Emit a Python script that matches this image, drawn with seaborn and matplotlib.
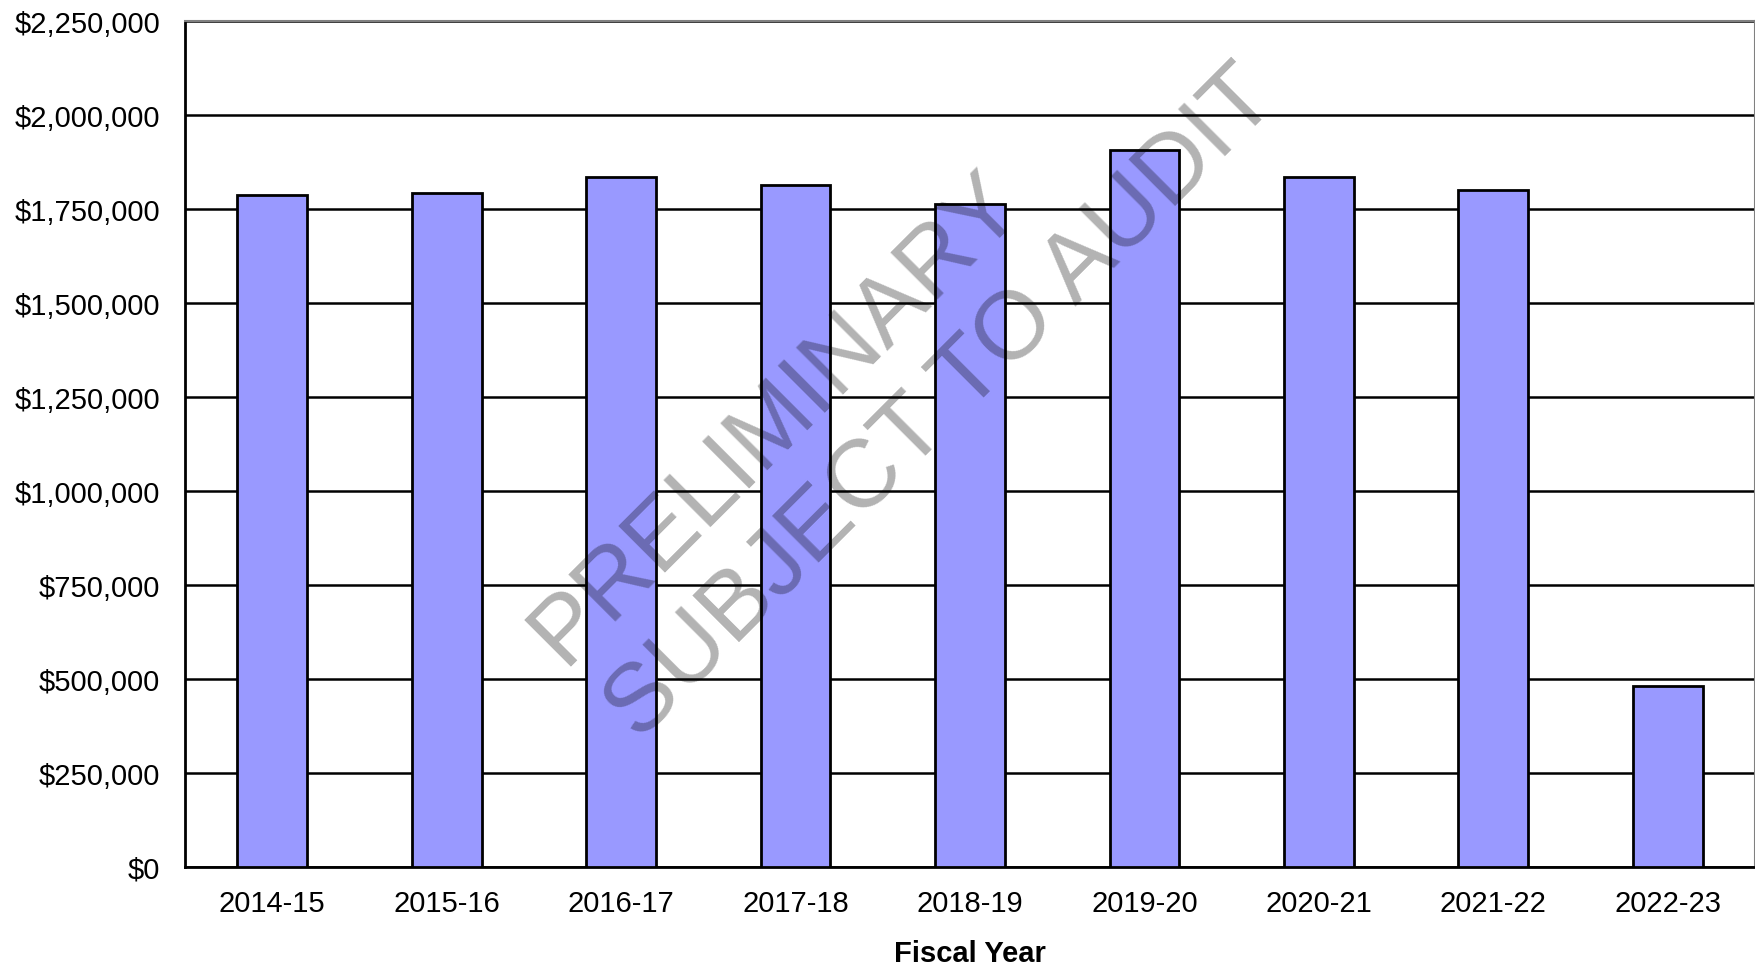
import matplotlib
matplotlib.use('Agg')
import matplotlib.pyplot as plt
import matplotlib.ticker as mtick
import seaborn as sns
import numpy as np

# values
years = ['2014-15', '2015-16', '2016-17', '2017-18', '2018-19',
         '2019-20', '2020-21', '2021-22', '2022-23']
amounts = [1787000, 1793000, 1835000, 1814000, 1764000,
           1906000, 1834000, 1800000, 481000]
y_ticks = list(range(0, 2250001, 250000))

sns.set_style('white')
plt.rcParams['font.family'] = ['Liberation Sans', 'DejaVu Sans']
plt.rcParams['text.color'] = 'black'
plt.rcParams['axes.labelcolor'] = 'black'
plt.rcParams['xtick.color'] = 'black'
plt.rcParams['ytick.color'] = 'black'

fig = plt.figure(figsize=(17.56, 9.70), dpi=100)
ax = fig.add_axes([0.1054, 0.1052, 0.894, 0.8721])

sns.barplot(x=years, y=amounts, color='#9999ff', saturation=1, width=0.4,
            edgecolor='black', linewidth=2.0, ax=ax, zorder=3)

ax.set_xlim(-0.5, len(years) - 0.5)
ax.set_ylim(0, 2250000)
ax.set_yticks(y_ticks)
ax.yaxis.set_major_formatter(mtick.FuncFormatter(lambda v, p: f'${v:,.0f}'))

ax.set_axisbelow(True)
ax.yaxis.grid(True, color='black', linewidth=1.8)
ax.xaxis.grid(False)

# ticks sit between the categories
ax.set_xticks(np.arange(-0.5, len(years)), minor=True)
ax.tick_params(axis='x', which='major', length=0, pad=16, labelsize=21)
ax.tick_params(axis='x', which='minor', length=7, width=1.8, direction='out')
ax.tick_params(axis='y', length=7, width=1.8, direction='out', pad=11, labelsize=21)

for side in ['left', 'bottom']:
    ax.spines[side].set_color('black')
    ax.spines[side].set_linewidth(2.0)
for side in ['top', 'right']:
    ax.spines[side].set_color('#808080')
    ax.spines[side].set_linewidth(1.5)

ax.set_xlabel('Fiscal Year', fontsize=21, fontweight='bold', labelpad=16)
ax.set_ylabel('')

# watermark, two left-aligned lines
wm = dict(rotation=45, rotation_mode='anchor', ha='left', va='baseline',
          fontsize=69.5, color='black', alpha=0.3, zorder=10)
fig.text(0.3206, 0.3124, 'PRELIMINARY', **wm)
fig.text(0.3640, 0.2350, 'SUBJECT TO AUDIT', **wm)

fig.savefig('out.png', dpi=100)
